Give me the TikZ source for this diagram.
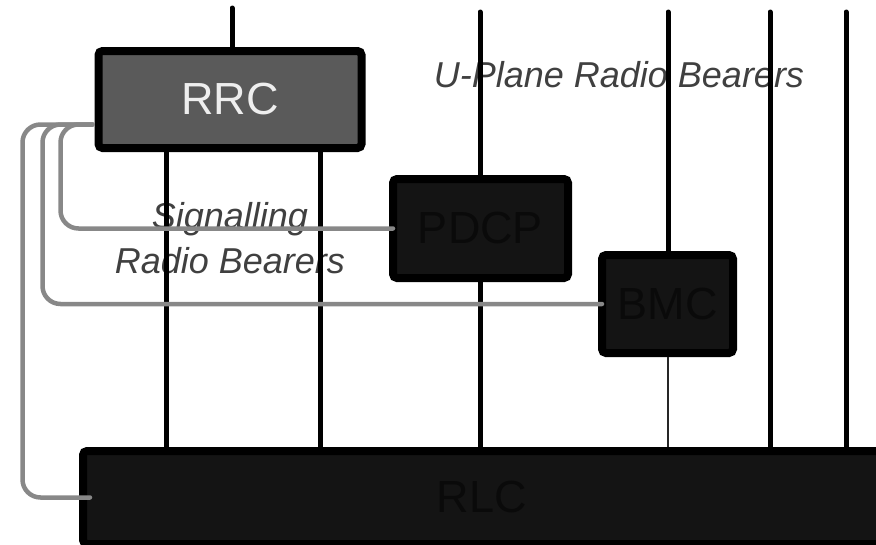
\documentclass[tikz,border=0pt]{standalone}
\usepackage{fontspec}
\setmainfont{Liberation Sans}
\definecolor{rrcfill}{HTML}{5A5A5A}
\definecolor{rrctext}{HTML}{EEEEEE}
\definecolor{boxfill}{HTML}{141414}
\definecolor{boxtext}{HTML}{0A0A0A}
\definecolor{srbgray}{HTML}{888888}
\definecolor{lblgray}{HTML}{404040}
\begin{document}
\begin{tikzpicture}[x=1pt,y=-1pt,
  block/.style={draw=black,line width=8pt,rounded corners=4pt,inner sep=0pt,
    fill=boxfill,text=boxtext,font=\fontsize{45}{54}\selectfont},
  bearer/.style={draw=black,line width=5pt,line cap=round},
  thinbearer/.style={draw=black!85,line width=1.5pt},
  srb/.style={draw=srbgray,line width=4.5pt,line cap=round,rounded corners=18pt},
  lbl/.style={text=lblgray,font=\fontsize{36}{45}\selectfont\itshape}]
\useasboundingbox (0,0) rectangle (876,544);
% labels, the bearers pass over them
\node[lbl,anchor=base] (uplane) at (619,87) {U-Plane Radio Bearers};
\node[lbl,align=center] (signal) at (230,238) {Signalling\\Radio Bearers};
% protocol blocks
\node[block,fill=rrcfill,text=rrctext,minimum width=263pt,minimum height=97pt] (rrc) at (230,99.5) {RRC};
\node[block,minimum width=175pt,minimum height=99pt] (pdcp) at (480.5,228.5) {PDCP};
\node[block,minimum width=131pt,minimum height=98pt] (bmc) at (667.5,304) {BMC};
\node[block,minimum width=804pt,minimum height=93pt] (rlc) at (485,497.5) {\hspace*{-6pt}RLC};
% bearer positions
\coordinate (top0) at (232,8);
\coordinate (s1) at (166,0);
\coordinate (s2) at (320,0);
\coordinate (u1) at (480,12);
\coordinate (u2) at (668,12);
\coordinate (u3) at (770,12);
\coordinate (u4) at (846,12);
\draw[bearer] (top0) -- (rrc.north -| top0);
\draw[bearer] (rrc.south -| s1) -- (rlc.north -| s1);
\draw[bearer] (rrc.south -| s2) -- (rlc.north -| s2);
\draw[bearer] (u1) -- (pdcp.north -| u1);
\draw[bearer] (pdcp.south -| u1) -- (rlc.north -| u1);
\draw[bearer] (u2) -- (bmc.north -| u2);
\draw[thinbearer] (bmc.south -| u2) -- (rlc.north -| u2);
\draw[bearer] (u3) -- (rlc.north -| u3);
\draw[bearer] (u4) -- (rlc.north -| u4);
% control links from RRC
\coordinate (rrcport) at ([xshift=-2pt,yshift=-25pt]rrc.west);
\draw[srb] (rrcport) -- ++(-70,0) |- ([xshift=11pt]rlc.west);
\draw[srb] (rrcport) -- ++(-50,0) |- ([xshift=4pt]bmc.west);
\draw[srb] (rrcport) -- ++(-32,0) |- ([xshift=4pt]pdcp.west);
\end{tikzpicture}
\end{document}
